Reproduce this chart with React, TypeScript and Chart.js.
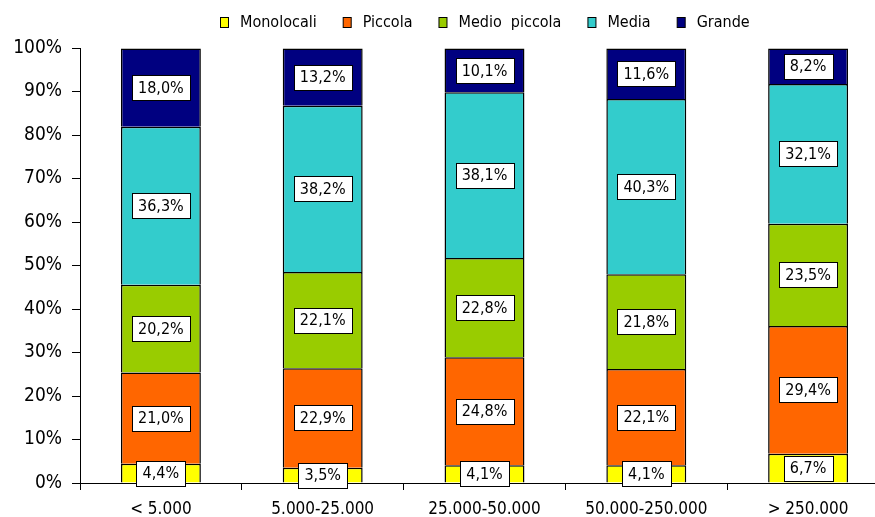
import React, { useEffect, useRef } from "react";
import { Chart, registerables } from "chart.js";

Chart.register(...registerables);

const categories = ["< 5.000", "5.000-25.000", "25.000-50.000", "50.000-250.000", "> 250.000"];
const seriesNames = ["Monolocali", "Piccola", "Medio  piccola", "Media", "Grande"];
const monolocali = [4.4, 3.5, 4.1, 4.1, 6.7];
const piccola = [21.0, 22.9, 24.8, 22.1, 29.4];
const medioPiccola = [20.2, 22.1, 22.8, 21.8, 23.5];
const media = [36.3, 38.2, 38.1, 40.3, 32.1];
const grande = [18.0, 13.2, 10.1, 11.6, 8.2];
const yTicks = [0, 10, 20, 30, 40, 50, 60, 70, 80, 90, 100];

const colors = ["#FFFF00", "#FF6600", "#99CC00", "#33CCCC", "#000080"];
const FONT = "'DejaVu Sans Condensed', 'Liberation Sans', sans-serif";

const fmt = (v: number) => v.toFixed(1).replace(".", ",") + "%";

const labelPlugin = {
  id: "boxLabels",
  afterDatasetsDraw(chart: any) {
    const ctx = chart.ctx;
    ctx.save();
    ctx.font = `16px ${FONT}`;
    ctx.textAlign = "center";
    ctx.textBaseline = "middle";
    chart.data.datasets.forEach((ds: any, i: number) => {
      const meta = chart.getDatasetMeta(i);
      meta.data.forEach((bar: any, j: number) => {
        const { x, y, base } = bar.getProps(["x", "y", "base"], true);
        const cy = (y + base) / 2;
        const text = fmt(ds.data[j]);
        const w = Math.round(ctx.measureText(text).width + 12);
        const h = 25;
        const left = Math.round(x - w / 2) + 0.5;
        const top = Math.round(cy - h / 2) + 0.5;
        ctx.fillStyle = "#FFFFFF";
        ctx.fillRect(left, top, w, h);
        ctx.strokeStyle = "#000000";
        ctx.lineWidth = 1;
        ctx.strokeRect(left, top, w, h);
        ctx.fillStyle = "#000000";
        ctx.fillText(text, x, cy + 1);
      });
    });
    ctx.restore();
  },
};

const legendPlugin = {
  id: "customLegend",
  afterDraw(chart: any) {
    const ctx = chart.ctx;
    const area = chart.chartArea;
    ctx.save();
    ctx.font = `16px ${FONT}`;
    ctx.textBaseline = "middle";
    ctx.textAlign = "left";
    const boxW = 8;
    const boxH = 10;
    const gapBoxText = 12;
    const gapItems = 26;
    const widths = seriesNames.map((n) => boxW + gapBoxText + ctx.measureText(n).width);
    const total = widths.reduce((a, b) => a + b, 0) + gapItems * (widths.length - 1);
    let xPos = Math.round((area.left + area.right) / 2 - total / 2);
    const cy = 22;
    seriesNames.forEach((n, i) => {
      ctx.fillStyle = colors[i];
      ctx.fillRect(xPos + 0.5, Math.round(cy - boxH / 2) + 0.5, boxW, boxH);
      ctx.strokeStyle = "#000";
      ctx.lineWidth = 1;
      ctx.strokeRect(xPos + 0.5, Math.round(cy - boxH / 2) + 0.5, boxW, boxH);
      ctx.fillStyle = "#000";
      ctx.fillText(n, xPos + boxW + gapBoxText, cy + 1);
      xPos += widths[i] + gapItems;
    });
    ctx.restore();
  },
};

export default function App() {
  const ref = useRef<HTMLCanvasElement | null>(null);
  useEffect(() => {
    if (!ref.current) return;
    const values = [monolocali, piccola, medioPiccola, media, grande];
    const chart = new Chart(ref.current, {
      type: "bar",
      data: {
        labels: categories,
        datasets: values.map((d, i) => ({
          label: seriesNames[i],
          data: d,
          backgroundColor: colors[i],
          borderColor: "#000000",
          borderWidth: 1.5,
          barPercentage: 0.494,
          categoryPercentage: 1,
        })),
      },
      options: {
        animation: false,
        responsive: true,
        maintainAspectRatio: false,
        layout: { padding: { top: 48, right: 1, left: 0, bottom: 0 } },
        plugins: { legend: { display: false }, tooltip: { enabled: false } },
        scales: {
          x: {
            stacked: true,
            grid: { offset: true, drawOnChartArea: false, drawTicks: true, tickLength: 7, color: "#000" },
            border: { color: "#000", width: 1 },
            ticks: { color: "#000", font: { size: 17, family: FONT }, padding: 9 },
            afterFit: (s: any) => {
              s.height = 34;
            },
          },
          y: {
            stacked: true,
            min: 0,
            max: 100,
            afterBuildTicks: (s: any) => {
              s.ticks = yTicks.map((v) => ({ value: v }));
            },
            grid: { drawOnChartArea: false, drawTicks: true, tickLength: 8, color: "#000" },
            border: { color: "#000", width: 1 },
            ticks: { color: "#000", font: { size: 19, family: FONT }, padding: 10, callback: (v: any) => v + "%" },
            afterFit: (s: any) => {
              s.width = 80;
            },
          },
        },
      },
      plugins: [labelPlugin, legendPlugin],
    });
    return () => chart.destroy();
  }, []);
  return (
    <div style={{ position: "absolute", left: 0, top: 0, width: 875, height: 517, overflow: "hidden", background: "#fff" }}>
      <div style={{ position: "relative", width: 890, height: 517 }}>
        <canvas ref={ref} />
      </div>
    </div>
  );
}
